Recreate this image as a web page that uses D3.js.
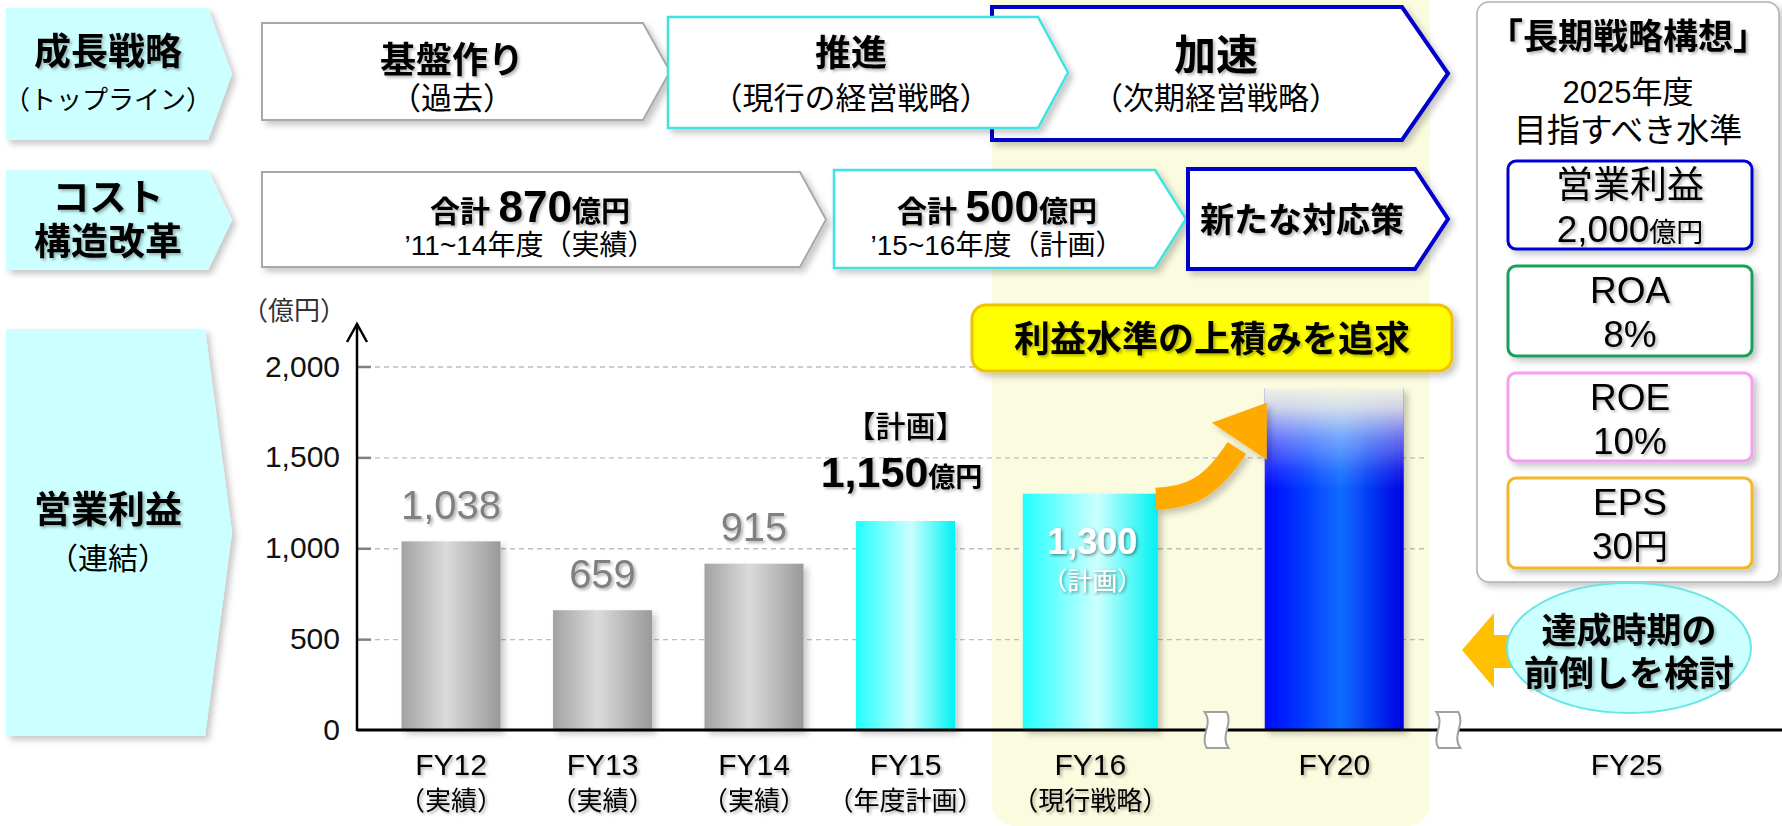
<!DOCTYPE html>
<html>
<head>
<meta charset="utf-8">
<script src="https://cdn.jsdelivr.net/npm/d3@7"></script>
<style>
  body { margin: 0; background: #fff; }
  svg { display: block; font-family: "Liberation Sans", Arial, "Noto Sans CJK JP", sans-serif; }
</style>
</head>
<body>
<svg id="chart" width="1782" height="826"></svg>
<script>
// ---- data ----
var years = ["FY12", "FY13", "FY14", "FY15", "FY16", "FY20", "FY25"];
var yearNotes = ["（実績）", "（実績）", "（実績）", "（年度計画）", "（現行戦略）", "", ""];
var profit = [1038, 659, 915, 1150, 1300, 1880, null];
var barKind = ["actual", "actual", "actual", "plan", "plan", "target", null];
var yTicks = [0, 500, 1000, 1500, 2000];

var rowLabels = [
  {main: ["成長戦略"], sub: "（トップライン）"},
  {main: ["コスト", "構造改革"], sub: null},
  {main: ["営業利益"], sub: "（連結）"}
];
var growthStages = [
  {title: "基盤作り", sub: "（過去）"},
  {title: "推進", sub: "（現行の経営戦略）"},
  {title: "加速", sub: "（次期経営戦略）"}
];
var costStages = [
  {amount: "870", sub: "’11~14年度（実績）"},
  {amount: "500", sub: "’15~16年度（計画）"},
  {title: "新たな対応策"}
];
var targets = [
  {name: "営業利益", value: "2,000", unit: "億円"},
  {name: "ROA", value: "8%", unit: ""},
  {name: "ROE", value: "10%", unit: ""},
  {name: "EPS", value: "30", unit: "円"}
];

// ---- layout ----
var slot = [0, 1, 2, 3, 4.22, 5.83, 7.76];   // horizontal slot of each year (axis has breaks)
var breakSlots = [5.06, 6.59];
var barW = [99, 99, 99, 99, 135, 139, 0];

var svg = d3.select("#chart");
var defs = svg.append("defs");

function shadow(id, dx, dy, sd, op) {
  defs.append("filter").attr("id", id)
    .attr("x", "-30%").attr("y", "-30%").attr("width", "160%").attr("height", "160%")
    .append("feDropShadow")
    .attr("dx", dx).attr("dy", dy).attr("stdDeviation", sd)
    .attr("flood-color", "#000").attr("flood-opacity", op);
}
shadow("tsh", 2, 2, 1.5, 0.3);
shadow("wsh", 1.5, 1.5, 1.5, 0.45);
shadow("bsh", 4, 4, 3, 0.22);

function grad(id, stops, vertical) {
  var g = defs.append("linearGradient").attr("id", id)
    .attr("x1", 0).attr("y1", 0).attr("x2", vertical ? 0 : 1).attr("y2", vertical ? 1 : 0);
  stops.forEach(function(s) {
    g.append("stop").attr("offset", s[0]).attr("stop-color", s[1])
      .attr("stop-opacity", s[2] == null ? 1 : s[2]);
  });
}
grad("gGrey", [[0, "#a2a2a2"], [0.45, "#dbdbdb"], [1, "#999999"]]);
grad("gCyan", [[0, "#22ffff"], [0.55, "#ccffff"], [1, "#00f2f2"]]);
grad("gBlue", [[0, "#0008ff"], [0.55, "#0a6cff"], [1, "#0000e4"]]);
grad("gFade", [[0, "#fbfbe2", 0.97], [0.2, "#f4f4e6", 0.85], [0.5, "#e8eef8", 0.45],
               [0.8, "#ffffff", 0.12], [1, "#ffffff", 0]], true);

var fillFor = {actual: "url(#gGrey)", plan: "url(#gCyan)", target: "url(#gBlue)"};

// text helper: parts = [[text, size, weight, fill]], cy = visual centre
function txt(parent, x, cy, parts, opt) {
  opt = opt || {};
  var big = d3.max(parts, function(p) { return p[1]; });
  var t = parent.append("text")
    .attr("x", x).attr("y", cy + big * 0.36)
    .attr("text-anchor", opt.anchor || "middle")
    .attr("fill", opt.fill || "#000");
  if (opt.filter) t.attr("filter", "url(#" + opt.filter + ")");
  parts.forEach(function(p) {
    t.append("tspan").text(p[0])
      .style("font-size", p[1] + "px")
      .style("font-weight", p[2] || 400)
      .attr("fill", p[3] || null);
  });
  return t;
}

function chevron(x0, y0, w, h, d) {
  return "M" + x0 + "," + y0 + "H" + (x0 + w - d) + "L" + (x0 + w) + "," + (y0 + h / 2) +
    "L" + (x0 + w - d) + "," + (y0 + h) + "H" + x0 + "Z";
}

// ---- highlight background ----
svg.append("rect")
  .attr("x", 992).attr("y", -30).attr("width", 438).attr("height", 856)
  .attr("rx", 22).attr("fill", "#fbfbdf");

// ---- left row labels ----
var rowBoxes = [
  {x: 6, y: 8, w: 226, h: 132, d: 24, cy: [52], scy: 100, ss: 26},
  {x: 6, y: 170, w: 226, h: 100, d: 24, cy: [198, 242], scy: null, ss: 0},
  {x: 6, y: 329, w: 226, h: 407, d: 27, cy: [510], scy: 558, ss: 30}
];
var left = svg.append("g");
rowLabels.forEach(function(r, i) {
  var b = rowBoxes[i];
  left.append("path").attr("d", chevron(b.x, b.y, b.w, b.h, b.d))
    .attr("fill", "#ccffff").attr("filter", "url(#bsh)");
  r.main.forEach(function(m, j) {
    txt(left, 108, b.cy[j], [[m, 37, 700]], {filter: "tsh"});
  });
  if (r.sub) txt(left, 108, b.scy, [[r.sub, b.ss, 400]]);
});

// ---- growth strategy chevrons ----
var growthBoxes = [
  {x: 262, y: 23, w: 408, h: 97, d: 27, stroke: "#a8a8a8", sw: 2, cx: 452, tcy: 60, scy: 98, ts: 36},
  {x: 668, y: 17, w: 400, h: 111, d: 30, stroke: "#3fe3e3", sw: 2.5, cx: 851, tcy: 53, scy: 98, ts: 36},
  {x: 992, y: 7, w: 456, h: 133, d: 46, stroke: "#0000cc", sw: 4, cx: 1216, tcy: 55, scy: 98, ts: 42}
];
var top1 = svg.append("g");
[2, 0, 1].forEach(function(i) {
  var b = growthBoxes[i], s = growthStages[i];
  top1.append("path").attr("d", chevron(b.x, b.y, b.w, b.h, b.d))
    .attr("fill", "#fff").attr("stroke", b.stroke).attr("stroke-width", b.sw)
    .attr("filter", "url(#bsh)");
  txt(top1, b.cx, b.tcy, [[s.title, b.ts, 700]], {filter: "tsh"});
  txt(top1, b.cx, b.scy, [[s.sub, 31, 400]]);
});

// ---- cost structure chevrons ----
var costBoxes = [
  {x: 262, y: 172, w: 564, h: 95, d: 26, stroke: "#a8a8a8", sw: 2, cx: 530},
  {x: 834, y: 170, w: 352, h: 98, d: 31, stroke: "#3fe3e3", sw: 2.5, cx: 997},
  {x: 1188, y: 169, w: 260, h: 100, d: 33, stroke: "#0000cc", sw: 4, cx: 1302}
];
var top2 = svg.append("g");
costStages.forEach(function(s, i) {
  var b = costBoxes[i];
  top2.append("path").attr("d", chevron(b.x, b.y, b.w, b.h, b.d))
    .attr("fill", "#fff").attr("stroke", b.stroke).attr("stroke-width", b.sw)
    .attr("filter", "url(#bsh)");
  if (s.title) {
    txt(top2, b.cx, 220, [[s.title, 34, 700]], {filter: "tsh"});
  } else {
    txt(top2, b.cx, 206, [["合計 ", 30, 700], [s.amount, 44, 700], ["億円", 29, 700]], {filter: "tsh"});
    txt(top2, b.cx, 245, [[s.sub, 28, 400]]);
  }
});

// ---- chart ----
var x = d3.scaleLinear().domain([0, 1]).range([451, 602.5]);
var y = d3.scaleLinear().domain([0, 2000]).range([730, 366.5]);
var axisX = 357, gridEnd = 1425;

var chart = svg.append("g");

// gridlines
chart.append("g")
  .attr("transform", "translate(" + axisX + ",0)")
  .call(d3.axisLeft(y).tickValues(yTicks.slice(1)).tickSize(-(gridEnd - axisX)).tickFormat(""))
  .call(function(g) {
    g.select(".domain").remove();
    g.selectAll("line").attr("stroke", "#bdbdbd").attr("stroke-width", 1.3).attr("stroke-dasharray", "5,4");
  });

// y ticks + labels
chart.append("g")
  .attr("transform", "translate(" + axisX + ",0)")
  .call(d3.axisLeft(y).tickValues(yTicks).tickSize(-14).tickPadding(17).tickFormat(d3.format(",")))
  .call(function(g) {
    g.select(".domain").remove();
    g.selectAll("line").attr("stroke", "#808080").attr("stroke-width", 2.5);
    g.selectAll("line").filter(function(d) { return d === 0; }).remove();
    g.selectAll("text").attr("fill", "#111").style("font-size", "30px")
      .style("font-family", '"Liberation Sans", Arial, sans-serif');
  });

txt(chart, 294, 311, [["（億円）", 26, 400]], {fill: "#333"});

// bars
var idx = d3.range(years.length).filter(function(i) { return profit[i] != null; });
chart.selectAll("rect.bar").data(idx).enter().append("rect")
  .attr("class", "bar")
  .attr("x", function(i) { return x(slot[i]) - barW[i] / 2; })
  .attr("y", function(i) { return y(profit[i]); })
  .attr("width", function(i) { return barW[i]; })
  .attr("height", function(i) { return y(0) - y(profit[i]); })
  .attr("fill", function(i) { return fillFor[barKind[i]]; })
  .attr("filter", "url(#bsh)");

// fade on top of target bar
chart.selectAll("rect.fade").data(idx.filter(function(i) { return barKind[i] === "target"; }))
  .enter().append("rect")
  .attr("x", function(i) { return x(slot[i]) - barW[i] / 2; })
  .attr("y", function(i) { return y(profit[i]) - 1; })
  .attr("width", function(i) { return barW[i]; })
  .attr("height", function(i) { return (y(0) - y(profit[i])) * 0.3; })
  .attr("fill", "url(#gFade)");

// y axis with arrow
chart.append("line").attr("x1", axisX).attr("x2", axisX).attr("y1", y(0) + 1).attr("y2", 324)
  .attr("stroke", "#000").attr("stroke-width", 2.5);
chart.append("path").attr("d", "M" + (axisX - 10) + ",342L" + axisX + ",324L" + (axisX + 10) + ",342")
  .attr("fill", "none").attr("stroke", "#000").attr("stroke-width", 2.5);

// x baseline
chart.append("line").attr("x1", axisX).attr("x2", 1782).attr("y1", y(0)).attr("y2", y(0))
  .attr("stroke", "#000").attr("stroke-width", 3);

// axis break marks
chart.selectAll("path.brk").data(breakSlots).enter().append("path")
  .attr("class", "brk")
  .attr("transform", function(s) { return "translate(" + x(s) + "," + y(0) + ")"; })
  .attr("d", "M-13,-18L9,-18C16,-6 2,6 11,18L-11,18C-18,6 -4,-6 -13,-18Z")
  .attr("fill", "#fff").attr("stroke", "#a0a0a0").attr("stroke-width", 2);

// x labels
idx.concat([6]).filter(function(v, k, a) { return a.indexOf(v) === k; }).forEach(function(i) {
  txt(chart, x(slot[i]), 764, [[years[i], 30, 400]], {filter: "tsh"});
  if (yearNotes[i]) txt(chart, x(slot[i]), 801, [[yearNotes[i], 26, 400]], {filter: "tsh"});
});

// value labels
idx.forEach(function(i) {
  var cx = x(slot[i]), top = y(profit[i]);
  var lbl = d3.format(",")(profit[i]);
  if (barKind[i] === "actual") {
    txt(chart, cx, top - 37, [[lbl, 40, 400]], {fill: "#808080", filter: "tsh"});
  } else if (i === 3) {
    txt(chart, cx, top - 95, [["【計画】", 30, 500]], {filter: "tsh"});
    txt(chart, cx - 4, top - 49, [[lbl, 43, 700], ["億円", 27, 700]], {filter: "tsh"});
  } else if (i === 4) {
    txt(chart, cx + 2, top + 47, [[lbl, 36, 700]], {fill: "#fff", filter: "wsh"});
    txt(chart, cx + 2, top + 87, [["（計画）", 25, 400]], {fill: "#fff", filter: "wsh"});
  }
});

// curved arrow from FY16 to FY20
(function() {
  var sx = x(slot[4]) + barW[4] / 2 - 2, sy = y(profit[4]) + 5;
  var tx = x(slot[5]) - barW[5] / 2 + 2, ty = y(1800);
  var g = chart.append("g").attr("filter", "url(#bsh)");
  g.append("path")
    .attr("d", "M" + sx + "," + sy + "C" + (sx + 35) + "," + (sy - 1) + " " + (tx - 55) + "," + (sy - 12) + " " + (tx - 30) + "," + (ty + 45))
    .attr("fill", "none").attr("stroke", "#ffaa00").attr("stroke-width", 22);
  g.append("path")
    .attr("d", "M" + tx + "," + ty + "L" + (tx - 55) + "," + (ty + 20) + "L" + tx + "," + (ty + 57) + "Z")
    .attr("fill", "#ffaa00");
})();

// callout
var callout = svg.append("g");
callout.append("rect").attr("x", 972).attr("y", 305).attr("width", 480).attr("height", 66)
  .attr("rx", 14).attr("fill", "#ffff00").attr("stroke", "#f2c200").attr("stroke-width", 3)
  .attr("filter", "url(#bsh)");
txt(callout, 1212, 339, [["利益水準の上積みを追求", 36, 700]], {filter: "tsh"});

// right panel
var panel = svg.append("g");
panel.append("rect").attr("x", 1477).attr("y", 2).attr("width", 302).attr("height", 580)
  .attr("rx", 12).attr("fill", "#fff").attr("stroke", "#b0b0b0").attr("stroke-width", 1.5)
  .attr("filter", "url(#bsh)");
txt(panel, 1628, 36, [["「長期戦略構想」", 35, 700]], {filter: "tsh"});
txt(panel, 1628, 92, [["2025年度", 31, 400]]);
txt(panel, 1628, 130, [["目指すべき水準", 33, 400]]);
var tBoxes = [
  {y: 161, h: 88, stroke: "#0000cc"},
  {y: 266, h: 90, stroke: "#18a058"},
  {y: 373, h: 88, stroke: "#f59ff0"},
  {y: 478, h: 90, stroke: "#f2b628"}
];
targets.forEach(function(t, i) {
  var b = tBoxes[i];
  panel.append("rect").attr("x", 1508).attr("y", b.y).attr("width", 244).attr("height", b.h)
    .attr("rx", 8).attr("fill", "#fff").attr("stroke", b.stroke).attr("stroke-width", 3)
    .attr("filter", "url(#bsh)");
  txt(panel, 1630, b.y + 24, [[t.name, 37, 400]], {filter: "tsh"});
  var parts = [[t.value, 37, 400]];
  if (t.unit) parts.push([t.unit, t.unit === "円" ? 35 : 27, 400]);
  txt(panel, 1630, b.y + 68, parts, {filter: "tsh"});
});

// "bring forward" arrow + ellipse
var fwd = svg.append("g");
fwd.append("path")
  .attr("d", "M1462,650L1494,613L1494,635L1545,635L1545,668L1494,668L1494,688Z")
  .attr("fill", "#ffc000");
fwd.append("ellipse").attr("cx", 1629).attr("cy", 648).attr("rx", 122).attr("ry", 65)
  .attr("fill", "#ccffff").attr("stroke", "#6be6e6").attr("stroke-width", 2);
txt(fwd, 1629, 630, [["達成時期の", 35, 700]], {filter: "tsh"});
txt(fwd, 1629, 673, [["前倒しを検討", 35, 700]], {filter: "tsh"});
</script>
</body>
</html>
